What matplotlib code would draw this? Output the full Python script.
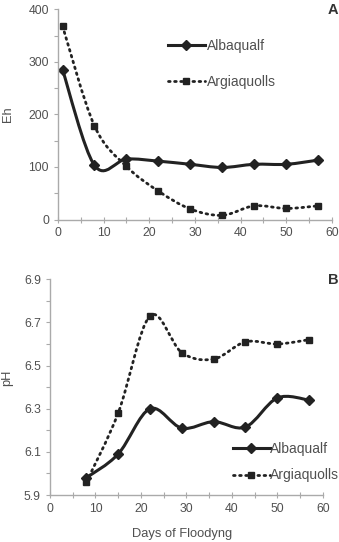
import matplotlib
matplotlib.use("Agg")
import matplotlib.pyplot as plt
from matplotlib.path import Path
from matplotlib.patches import PathPatch
from matplotlib.lines import Line2D
import numpy as np

plt.rcParams["font.family"] = ["Liberation Sans", "DejaVu Sans"]

days_eh = [1, 8, 15, 22, 29, 36, 43, 50, 57]
eh_albaqualf = [285, 103, 115, 111, 105, 99, 105, 105, 113]
eh_argiaquolls = [368, 178, 101, 54, 20, 8, 26, 21, 26]

days_ph = [8, 15, 22, 29, 36, 43, 50, 57]
ph_albaqualf = [5.98, 6.09, 6.30, 6.21, 6.24, 6.215, 6.35, 6.34]
ph_argiaquolls = [5.96, 6.28, 6.73, 6.56, 6.53, 6.61, 6.60, 6.62]

INK = "#222222"
GREY = "#505050"
SPINE = "#aaaaaa"


def smooth_path(x, y):
    # Excel-like smoothed line: cubic bezier through the points
    p = np.column_stack([x, y]).astype(float)
    ext = np.vstack([p[0], p, p[-1]])
    verts = [p[0]]
    codes = [Path.MOVETO]
    for i in range(len(p) - 1):
        p0, p1, p2, p3 = ext[i], ext[i + 1], ext[i + 2], ext[i + 3]
        c1 = p1 + (p2 - p0) / 6.0
        c2 = p2 - (p3 - p1) / 6.0
        verts += [c1, c2, p2]
        codes += [Path.CURVE4] * 3
    return Path(verts, codes)


def draw_series(ax, x, y, ls, marker, ms):
    patch = PathPatch(smooth_path(x, y), fill=False, edgecolor=INK,
                      lw=2.2 if ls == "-" else 2.0, linestyle=ls,
                      capstyle="round", transform=ax.transData)
    ax.add_patch(patch)
    ax.plot(x, y, linestyle="none", marker=marker, ms=ms, color=INK)


def style(ax):
    for s in ["top", "right"]:
        ax.spines[s].set_visible(False)
    for s in ["left", "bottom"]:
        ax.spines[s].set_color(SPINE)
        ax.spines[s].set_linewidth(1.0)
    ax.tick_params(axis="both", which="both", colors=SPINE, labelcolor=GREY,
                   labelsize=8.8, length=3, width=0.8)
    ax.tick_params(axis="x", which="both", direction="inout", length=4)


dotted = (0, (0.6, 1.6))


def handles():
    return [Line2D([], [], color=INK, lw=2.2, marker="D", ms=5),
            Line2D([], [], color=INK, lw=2.0, linestyle=dotted, marker="s",
                   ms=5, dash_capstyle="round")]


fig = plt.figure(figsize=(3.39, 5.42), dpi=100)

# panel A
axA = fig.add_axes([0.171, 0.595, 0.808, 0.388])
draw_series(axA, days_eh, eh_albaqualf, "-", "D", 5)
draw_series(axA, days_eh, eh_argiaquolls, dotted, "s", 5)
axA.set_xlim(0, 60)
axA.set_ylim(0, 400)
axA.set_xticks(range(0, 61, 10))
axA.set_xticks(range(0, 61, 5), minor=True)
axA.set_yticks(range(0, 401, 100))
axA.set_yticks(range(0, 401, 50), minor=True)
style(axA)
fig.text(8 / 339, 1 - 114 / 542, "Eh", rotation=90, ha="center",
         va="center", color=GREY, fontsize=9.3)
fig.text(0.998, 1 - 10 / 542, "A", ha="right", va="center", fontsize=10.5,
         fontweight="bold", color="#333333")

axA.legend(handles(), ["Albaqualf", "Argiaquolls"], loc="upper left",
           bbox_to_anchor=(0.401, 0.858), frameon=False, fontsize=10,
           handlelength=2.66, handletextpad=0.15, labelspacing=1.55,
           labelcolor=GREY, borderaxespad=0, borderpad=0)

# panel B
axB = fig.add_axes([0.1475, 0.0867, 0.8045, 0.398])
draw_series(axB, days_ph, ph_albaqualf, "-", "D", 5)
draw_series(axB, days_ph, ph_argiaquolls, dotted, "s", 5)
axB.set_xlim(0, 60)
axB.set_ylim(5.9, 6.9)
axB.set_xticks(range(0, 61, 10))
axB.set_xticks(range(0, 61, 5), minor=True)
axB.set_yticks(np.arange(5.9, 6.91, 0.2))
axB.set_yticks(np.arange(5.9, 6.91, 0.1), minor=True)
axB.set_yticklabels(["5.9", "6.1", "6.3", "6.5", "6.7", "6.9"])
style(axB)
fig.text(7 / 339, 1 - 378 / 542, "pH", rotation=90, ha="center",
         va="center", color=GREY, fontsize=9.3)
fig.text(182 / 339, 1 - 534 / 542, "Days of Floodyng", ha="center",
         va="center", color=GREY, fontsize=9.3)
fig.text(0.998, 1 - 280 / 542, "B", ha="right", va="center", fontsize=10.5,
         fontweight="bold", color="#333333")

axB.legend(handles(), ["Albaqualf", "Argiaquolls"], loc="upper left",
           bbox_to_anchor=(0.67, 0.246), frameon=False, fontsize=10,
           handlelength=2.66, handletextpad=0.05, labelspacing=0.9,
           labelcolor=GREY, borderaxespad=0, borderpad=0)

fig.savefig("out.png", dpi=100)
